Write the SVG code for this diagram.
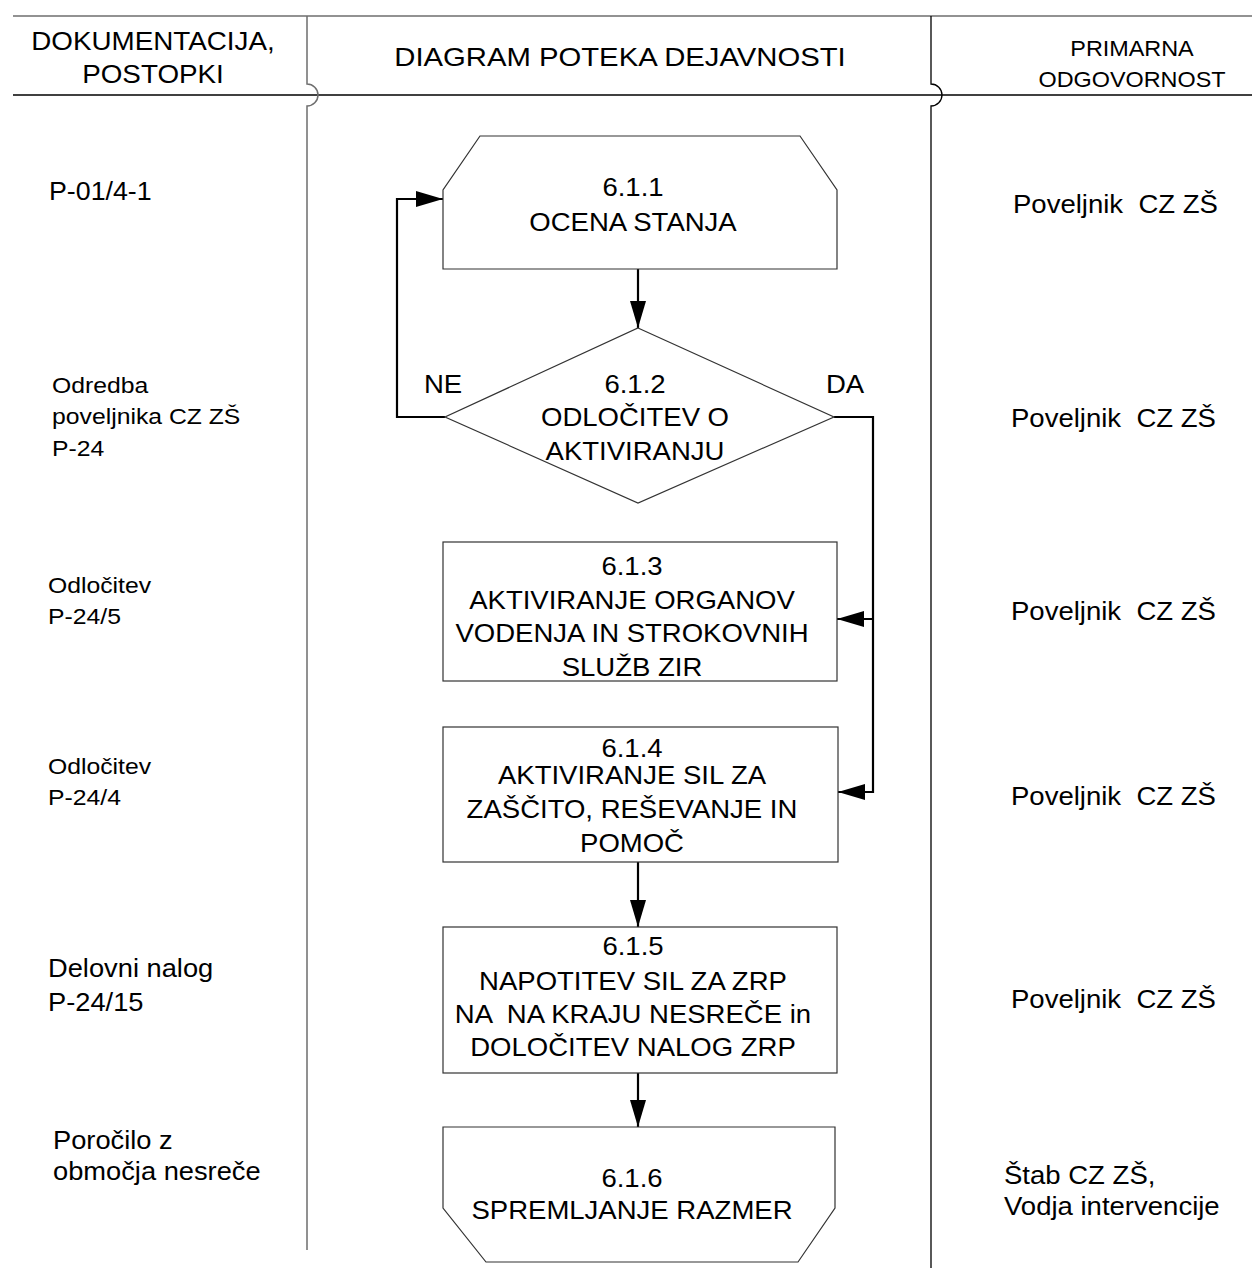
<svg xmlns="http://www.w3.org/2000/svg" width="1252" height="1268" viewBox="0 0 1252 1268">
<style>
text{font-family:"Liberation Sans",Arial,sans-serif;fill:#000}
.t{font-size:25.5px}
.s{font-size:22.5px}
.c{text-anchor:middle}
.box{fill:none;stroke:#333;stroke-width:1.2}
.frame{fill:none;stroke:#000;stroke-width:1.3}
.gray{fill:none;stroke:#6e6e6e;stroke-width:1.5}
.con{fill:none;stroke:#000;stroke-width:2.2}
</style>
<defs>
<marker id="ah" markerUnits="userSpaceOnUse" markerWidth="28" markerHeight="16" refX="27" refY="8" orient="auto">
<path d="M0,0 L27,8 L0,16 z" fill="#000"/>
</marker>
</defs>
<rect width="1252" height="1268" fill="#fff"/>
<g id="frame">
<line class="gray" x1="13" y1="16" x2="1252" y2="16"/>
<line class="frame" x1="13" y1="95" x2="1252" y2="95"/>
<path class="gray" d="M307,16 V84 A11,11 0 0 1 307,106 V1250"/>
<path class="frame" d="M931,16 V84 A11,11 0 0 1 931,106 V1268"/>
</g>
<g id="header">
<text class="c" font-size="26" transform="translate(153 50) scale(1.07 1)"><tspan x="0" y="0">DOKUMENTACIJA,</tspan><tspan x="0" y="33">POSTOPKI</tspan></text>
<text class="c" font-size="26.5" transform="translate(620 66) scale(1.105 1)">DIAGRAM POTEKA DEJAVNOSTI</text>
<text class="c" font-size="22.5" transform="translate(1132 56) scale(1.04 1)"><tspan x="0" y="0">PRIMARNA</tspan><tspan x="0" y="31">ODGOVORNOST</tspan></text>
</g>
<g id="documents">
<text class="t" transform="translate(49 200) scale(1.05 1)">P-01/4-1</text>
<text class="s" transform="translate(52 393) scale(1.1 1)"><tspan x="0" y="0">Odredba</tspan><tspan x="0" y="31.5">poveljnika CZ ZŠ</tspan><tspan x="0" y="63">P-24</tspan></text>
<text class="s" transform="translate(48 593) scale(1.1 1)"><tspan x="0" y="0">Odločitev</tspan><tspan x="0" y="31">P-24/5</tspan></text>
<text class="s" transform="translate(48 774) scale(1.1 1)"><tspan x="0" y="0">Odločitev</tspan><tspan x="0" y="31">P-24/4</tspan></text>
<text class="t" transform="translate(48 977) scale(1.07 1)"><tspan x="0" y="0">Delovni nalog</tspan><tspan x="0" y="34">P-24/15</tspan></text>
<text class="t" transform="translate(53 1149) scale(1.07 1)"><tspan x="0" y="0">Poročilo z</tspan><tspan x="0" y="31">območja nesreče</tspan></text>
</g>
<g id="responsibility">
<text class="t" xml:space="preserve" transform="translate(1013 213) scale(1.08 1)">Poveljnik  CZ ZŠ</text>
<text class="t" xml:space="preserve" transform="translate(1011 427) scale(1.08 1)">Poveljnik  CZ ZŠ</text>
<text class="t" xml:space="preserve" transform="translate(1011 620) scale(1.08 1)">Poveljnik  CZ ZŠ</text>
<text class="t" xml:space="preserve" transform="translate(1011 805) scale(1.08 1)">Poveljnik  CZ ZŠ</text>
<text class="t" xml:space="preserve" transform="translate(1011 1008) scale(1.08 1)">Poveljnik  CZ ZŠ</text>
<text class="t" transform="translate(1004 1184) scale(1.08 1)"><tspan x="0" y="0">Štab CZ ZŠ,</tspan><tspan x="0" y="31">Vodja intervencije</tspan></text>
</g>
<g id="connectors">
<line class="con" x1="638" y1="269" x2="638" y2="328" marker-end="url(#ah)"/>
<polyline class="con" points="445,417 397,417 397,199 443,199" marker-end="url(#ah)"/>
<polyline class="con" points="834,417 873,417 873,792 838,792" marker-end="url(#ah)"/>
<line class="con" x1="873" y1="619" x2="837" y2="619" marker-end="url(#ah)"/>
<line class="con" x1="638" y1="862" x2="638" y2="927" marker-end="url(#ah)"/>
<line class="con" x1="638" y1="1073" x2="638" y2="1127" marker-end="url(#ah)"/>
</g>
<g id="n611">
<polygon class="box" points="480,136 800,136 837,190 837,269 443,269 443,190"/>
<text class="t c" transform="translate(633 196) scale(1.08 1)"><tspan x="0" y="0">6.1.1</tspan><tspan x="0" y="35">OCENA STANJA</tspan></text>
</g>
<g id="n612">
<polygon class="box" points="638,328 834,417 638,503 445,417"/>
<text class="t c" transform="translate(635 393) scale(1.08 1)"><tspan x="0" y="0">6.1.2</tspan><tspan x="0" y="33">ODLOČITEV O</tspan><tspan x="0" y="67">AKTIVIRANJU</tspan></text>
<text class="t c" transform="translate(443 393) scale(1.08 1)">NE</text>
<text class="t c" transform="translate(845 393) scale(1.08 1)">DA</text>
</g>
<g id="n613">
<rect class="box" x="443" y="542" width="394" height="139"/>
<text class="t c" transform="translate(632 575) scale(1.08 1)"><tspan x="0" y="0">6.1.3</tspan><tspan x="0" y="34">AKTIVIRANJE ORGANOV</tspan><tspan x="0" y="67">VODENJA IN STROKOVNIH</tspan><tspan x="0" y="101">SLUŽB ZIR</tspan></text>
</g>
<g id="n614">
<rect class="box" x="443" y="727" width="395" height="135"/>
<text class="t c" transform="translate(632 757) scale(1.08 1)"><tspan x="0" y="0">6.1.4</tspan><tspan x="0" y="27">AKTIVIRANJE SIL ZA</tspan><tspan x="0" y="61">ZAŠČITO, REŠEVANJE IN</tspan><tspan x="0" y="95">POMOČ</tspan></text>
</g>
<g id="n615">
<rect class="box" x="443" y="927" width="394" height="146"/>
<text class="t c" xml:space="preserve" transform="translate(633 955) scale(1.08 1)"><tspan x="0" y="0">6.1.5</tspan><tspan x="0" y="35">NAPOTITEV SIL ZA ZRP</tspan><tspan x="0" y="68">NA  NA KRAJU NESREČE in</tspan><tspan x="0" y="101">DOLOČITEV NALOG ZRP</tspan></text>
</g>
<g id="n616">
<polygon class="box" points="443,1127 835,1127 835,1208 798,1262 486,1262 443,1208"/>
<text class="t c" transform="translate(632 1187) scale(1.08 1)"><tspan x="0" y="0">6.1.6</tspan><tspan x="0" y="32">SPREMLJANJE RAZMER</tspan></text>
</g>
</svg>
